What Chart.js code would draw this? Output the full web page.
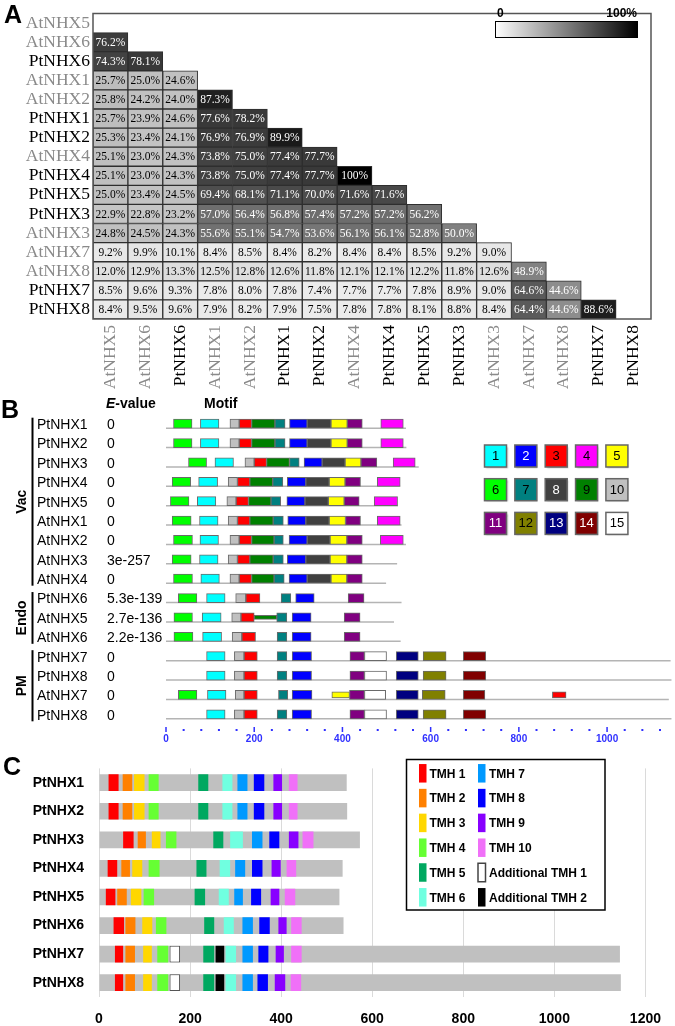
<!DOCTYPE html>
<html>
<head>
    <title>NHX identity, motifs and TMH</title>
    <script src="https://cdn.jsdelivr.net/npm/chart.js"></script>
    <style>
        body {
            margin: 0;
            background: #fff;
            width: 675px;
            height: 1026px;
            position: relative;
            overflow: hidden;
            font-family: "Liberation Sans", Arial, sans-serif;
        }
        canvas {
            position: absolute;
            left: 0;
        }
        #chartA { top: 0; }
        #chartB { top: 395px; }
        #chartC { top: 745px; }
        .tag {
            position: absolute;
            font: bold 25px/25px "Liberation Sans", Arial, sans-serif;
            z-index: 2;
        }
        .head {
            position: absolute;
            font: bold 14px/14px "Liberation Sans", Arial, sans-serif;
            z-index: 2;
        }
    </style>
</head>
<body>
    <canvas id="chartA" width="675" height="395"></canvas>
    <canvas id="chartB" width="675" height="350"></canvas>
    <canvas id="chartC" width="675" height="281"></canvas>

    <div class="tag" style="left:4px; top:2px;">A</div>
    <div class="tag" style="left:1px; top:397px;">B</div>
    <div class="tag" style="left:3px; top:754px;">C</div>
    <div class="head" style="left:106px; top:396px;"><i>E</i>-value</div>
    <div class="head" style="left:204px; top:396px;">Motif</div>

    <script>
        const SANS = '"Liberation Sans", Arial, sans-serif';
        const SERIF = '"Liberation Serif", "Times New Roman", serif';

        // ---------- A: pairwise identity (lower triangle, %)
        const namesA = ['AtNHX5', 'AtNHX6', 'PtNHX6', 'AtNHX1', 'AtNHX2', 'PtNHX1', 'PtNHX2', 'AtNHX4',
                        'PtNHX4', 'PtNHX5', 'PtNHX3', 'AtNHX3', 'AtNHX7', 'AtNHX8', 'PtNHX7', 'PtNHX8'];
        const identity = [
            [],
            [76.2],
            [74.3, 78.1],
            [25.7, 25.0, 24.6],
            [25.8, 24.2, 24.0, 87.3],
            [25.7, 23.9, 24.6, 77.6, 78.2],
            [25.3, 23.4, 24.1, 76.9, 76.9, 89.9],
            [25.1, 23.0, 24.3, 73.8, 75.0, 77.4, 77.7],
            [25.1, 23.0, 24.3, 73.8, 75.0, 77.4, 77.7, 100],
            [25.0, 23.4, 24.5, 69.4, 68.1, 71.1, 70.0, 71.6, 71.6],
            [22.9, 22.8, 23.2, 57.0, 56.4, 56.8, 57.4, 57.2, 57.2, 56.2],
            [24.8, 24.5, 24.3, 55.6, 55.1, 54.7, 53.6, 56.1, 56.1, 52.8, 50.0],
            [9.2, 9.9, 10.1, 8.4, 8.5, 8.4, 8.2, 8.4, 8.4, 8.5, 9.2, 9.0],
            [12.0, 12.9, 13.3, 12.5, 12.8, 12.6, 11.8, 12.1, 12.1, 12.2, 11.8, 12.6, 48.9],
            [8.5, 9.6, 9.3, 7.8, 8.0, 7.8, 7.4, 7.7, 7.7, 7.8, 8.9, 9.0, 64.6, 44.6],
            [8.4, 9.5, 9.6, 7.9, 8.2, 7.9, 7.5, 7.8, 7.8, 8.1, 8.8, 8.4, 64.4, 44.6, 88.6]
        ];

        // ---------- B: MEME motifs (start, end in aa)
        const rowsB = ['PtNHX1', 'PtNHX2', 'PtNHX3', 'PtNHX4', 'PtNHX5', 'AtNHX1', 'AtNHX2', 'AtNHX3',
                       'AtNHX4', 'PtNHX6', 'AtNHX5', 'AtNHX6', 'PtNHX7', 'PtNHX8', 'AtNHX7', 'PtNHX8'];
        const evalues = ['0', '0', '0', '0', '0', '0', '0', '3e-257', '0', '5.3e-139', '2.7e-136', '2.2e-136',
                         '0', '0', '0', '0'];
        const lengthsB = [544, 545, 573, 531, 526, 534, 544, 524, 499, 534, 517, 532, 1144, 1146, 1140, 1146];
        const groupNames = ['Vac', 'Endo', 'PM'];
        const groupFirst = [0, 9, 12];
        const groupLast = [8, 11, 15];

        const motif1 = [[78,120],[78,120],[111,153],[74,117],[71,113],[76,118],[77,119],[76,118],[79,121],[92,134],[82,125],[83,126],[92,134],[92,134],[94,136],[92,134]];
        const motif2 = [[280,320],[280,320],[313,354],[275,317],[274,315],[276,317],[279,320],[275,317],[279,320],[294,336],[286,329],[286,329],[286,330],[286,330],[286,331],[286,330]];
        const motif3 = [[166,194],[166,194],[200,228],[162,190],[159,187],[162,190],[166,194],[162,190],[166,194],[181,213],[170,200],[172,203],[177,207],[177,207],[177,207],[177,207]];
        const motif4 = [[487,538],[487,538],[515,565],[479,531],[472,525],[479,531],[486,538],null,null,null,null,null,null,null,null,null];
        const motif5 = [[374,411],[374,411],[406,442],[370,406],[368,404],[370,407],[372,410],[372,410],[374,410],null,null,null,null,null,null,null];
        const motif6 = [[17,59],[17,59],[51,92],[14,56],[10,52],[14,57],[17,60],[14,57],[17,60],[28,70],[18,60],[18,61],null,null,[28,70],null];
        const motif7 = [[247,270],[247,270],[280,302],[242,265],[238,260],[243,266],[245,266],[243,266],[245,268],[261,283],[251,274],[252,274],[252,274],[252,274],[255,276],[252,274]];
        const motif8 = [[320,374],[320,374],[354,406],[317,370],[315,368],[317,370],[320,372],[317,372],[320,374],null,null,null,null,null,null,null];
        const motif9 = [[194,247],[194,247],[228,280],[190,242],[187,238],[190,243],[194,245],[190,243],[194,245],null,null,null,null,null,null,null];
        const motif10 = [[145,166],[145,166],[179,200],[141,162],[138,159],[141,162],[145,166],[141,162],[145,166],[158,181],[149,170],[150,172],[155,177],[155,177],[157,177],[155,177]];
        const motif11 = [[411,445],[411,445],[442,478],[406,441],[404,438],[407,441],[410,445],[410,445],[410,445],[413,449],[404,440],[404,440],[417,450],[417,450],[416,450],[417,450]];
        const motif12 = [null,null,null,null,null,null,null,null,null,null,null,null,[583,635],[583,635],[581,633],[583,635]];
        const motif13 = [null,null,null,null,null,null,null,null,null,null,null,null,[522,572],[522,572],[522,572],[522,572]];
        const motif14 = [null,null,null,null,null,null,null,null,null,null,null,null,[674,725],[674,725],[674,723],[674,725]];
        const motif15 = [null,null,null,null,null,null,null,null,null,null,null,null,[450,500],[450,500],[450,498],[450,500]];
        // weaker hits drawn as lower boxes
        const weakMotif = [9, 5, 3];
        const weakRow = [10, 14, 14];
        const weakRange = [[200, 251], [376, 416], [876, 907]];
        const weakHeight = [4, 6, 6];

        const motifColors = ['#00ffff', '#0000ff', '#ff0000', '#ff00ff', '#ffff00', '#00ff00', '#008080', '#404040',
                             '#008000', '#c0c0c0', '#800080', '#808000', '#000080', '#800000', '#ffffff'];
        const motifInk = ['#000', '#fff', '#000', '#000', '#000', '#000', '#000', '#fff',
                          '#000', '#000', '#fff', '#000', '#fff', '#fff', '#000'];

        // ---------- C: TMH positions
        const namesC = ['PtNHX1', 'PtNHX2', 'PtNHX3', 'PtNHX4', 'PtNHX5', 'PtNHX6', 'PtNHX7', 'PtNHX8'];
        const lengthsC = [544, 545, 573, 535, 528, 537, 1144, 1146];
        const tmh1 = [[21,43],[21,43],[53,76],[19,40],[15,36],[32,55],[35,53],[35,53]];
        const tmh2 = [[52,73],[52,73],[85,103],[49,68],[40,61],[58,80],[58,79],[58,79]];
        const tmh3 = [[77,100],[77,100],[116,135],[73,95],[70,93],[95,117],[97,116],[97,116]];
        const tmh4 = [[109,131],[109,131],[147,170],[109,133],[98,121],[125,148],[128,152],[128,152]];
        const tmh5 = [[218,240],[218,240],[251,273],[214,236],[210,233],[231,253],[229,253],[229,253]];
        const tmh6 = [[271,293],[271,293],[288,316],[265,288],[263,285],[274,296],[278,301],[278,301]];
        const tmh7 = [[304,326],[304,326],[336,359],[299,321],[297,316],[315,338],[315,338],[315,338]];
        const tmh8 = [[340,363],[340,363],[374,396],[336,359],[334,356],[352,375],[350,372],[348,371]];
        const tmh9 = [[383,402],[383,402],[417,438],[379,399],[377,396],[394,412],[388,406],[386,409]];
        const tmh10 = [[417,436],[417,436],[447,471],[412,433],[408,431],[422,445],[422,445],[421,444]];
        const addTmh1 = [null, null, null, null, null, null, [155,178], [155,178]];
        const addTmh2 = [null, null, null, null, null, null, [256,275], [256,275]];
        const tmhNames = ['TMH 1', 'TMH 2', 'TMH 3', 'TMH 4', 'TMH 5', 'TMH 6', 'TMH 7', 'TMH 8', 'TMH 9', 'TMH 10',
                          'Additional TMH 1', 'Additional TMH 2'];
        const tmhColors = ['#ff0000', '#ff8000', '#ffd700', '#66ff33', '#00a860', '#70ffe0', '#0099ff', '#0000ff',
                           '#8800ff', '#f070f8', '#ffffff', '#000000'];

        const atColor = name => name.startsWith('At') ? '#8a8a8a' : '#000';

        // ================= Panel A
        const cellColor = v => {
            const g = Math.min(235, Math.round(255 * (1 - v / 100)));
            return 'rgb(' + g + ',' + g + ',' + g + ')';
        };

        const heatDatasets = namesA.map((col, j) => ({
            label: col,
            data: namesA.map((row, i) => identity[i][j] != null ? [j, j + 1] : null),
            backgroundColor: namesA.map((row, i) => identity[i][j] != null ? cellColor(identity[i][j]) : 'transparent'),
            borderColor: '#2e2e2e',
            borderWidth: 1,
            borderSkipped: false,
            grouped: false,
            barPercentage: 1,
            categoryPercentage: 1
        }));

        const cellText = {
            id: 'cellText',
            afterDatasetsDraw(chart) {
                const ctx = chart.ctx;
                ctx.save();
                ctx.font = '11.5px ' + SERIF;
                ctx.textAlign = 'center';
                ctx.textBaseline = 'middle';
                chart.data.datasets.forEach((ds, j) => {
                    chart.getDatasetMeta(j).data.forEach((bar, i) => {
                        const v = identity[i][j];
                        if (v == null) return;
                        ctx.fillStyle = v > 40 ? '#fff' : '#000';
                        const txt = v === 100 ? '100%' : v.toFixed(1) + '%';
                        ctx.fillText(txt, (bar.x + bar.base) / 2, bar.y + 0.5);
                    });
                });
                ctx.restore();
            }
        };

        const frameA = {
            id: 'frameA',
            afterDraw(chart) {
                const {ctx, chartArea: a} = chart;
                ctx.save();
                ctx.strokeStyle = '#555';
                ctx.lineWidth = 1.5;
                ctx.strokeRect(a.left, a.top, a.right - a.left, a.bottom - a.top);
                // grey scale key
                const g = ctx.createLinearGradient(495, 0, 637, 0);
                g.addColorStop(0, '#ffffff');
                g.addColorStop(1, '#000000');
                ctx.fillStyle = g;
                ctx.fillRect(495, 21, 142, 16);
                ctx.strokeStyle = '#000';
                ctx.lineWidth = 1;
                ctx.strokeRect(495.5, 21.5, 142, 16);
                ctx.fillStyle = '#000';
                ctx.font = 'bold 12px ' + SANS;
                ctx.textBaseline = 'alphabetic';
                ctx.textAlign = 'left';
                ctx.fillText('0', 497, 17);
                ctx.textAlign = 'right';
                ctx.fillText('100%', 637, 17);
                ctx.restore();
            }
        };

        new Chart(document.getElementById('chartA'), {
            type: 'bar',
            data: { labels: namesA, datasets: heatDatasets },
            options: {
                indexAxis: 'y',
                responsive: false,
                animation: false,
                layout: { padding: { top: 3, right: 24, left: 0, bottom: 0 } },
                plugins: { legend: { display: false }, tooltip: { enabled: false } },
                scales: {
                    x: {
                        type: 'linear', min: 0, max: 16,
                        grid: { display: false, drawTicks: false },
                        border: { display: false },
                        afterBuildTicks: s => { s.ticks = namesA.map((n, i) => ({ value: i + 0.5 })); },
                        afterFit: s => { s.height = 76; },
                        ticks: {
                            autoSkip: false, minRotation: 90, maxRotation: 90, padding: 6,
                            font: { family: SERIF, size: 17.5 },
                            color: c => atColor(namesA[c.index]),
                            callback: (v, i) => namesA[i]
                        }
                    },
                    y: {
                        grid: { display: false, drawTicks: false },
                        border: { display: false },
                        afterFit: s => { s.width = 93; },
                        ticks: {
                            autoSkip: false,
                            padding: 3,
                            font: { family: SERIF, size: 17.5 },
                            color: c => atColor(namesA[c.index])
                        }
                    }
                }
            },
            plugins: [cellText, frameA]
        });

        // ================= Panel B
        const motifRanges = [motif1, motif2, motif3, motif4, motif5, motif6, motif7, motif8, motif9, motif10,
                             motif11, motif12, motif13, motif14, motif15];
        const motifDatasets = motifRanges.map((ranges, k) => ({
            label: 'Motif ' + (k + 1),
            data: ranges,
            backgroundColor: motifColors[k],
            borderColor: '#6a6a6a',
            borderWidth: 1,
            borderSkipped: false,
            barThickness: 9,
            grouped: false
        }));
        const weakDatasets = weakMotif.map((m, k) => ({
            label: 'Motif ' + m + ' (weak)',
            data: rowsB.map((r, i) => i === weakRow[k] ? weakRange[k] : null),
            backgroundColor: motifColors[m - 1],
            borderColor: '#6a6a6a',
            borderWidth: 1,
            borderSkipped: false,
            barThickness: weakHeight[k],
            grouped: false
        }));

        const proteinLines = {
            id: 'proteinLines',
            beforeDatasetsDraw(chart) {
                const {ctx, scales: {x, y}} = chart;
                ctx.save();
                ctx.strokeStyle = '#b4b4b4';
                ctx.lineWidth = 1.5;
                lengthsB.forEach((len, i) => {
                    const py = y.getPixelForValue(i) + 4.5;
                    ctx.beginPath();
                    ctx.moveTo(x.getPixelForValue(0), py);
                    ctx.lineTo(x.getPixelForValue(len), py);
                    ctx.stroke();
                });
                ctx.restore();
            }
        };

        const decorB = {
            id: 'decorB',
            afterDraw(chart) {
                const {ctx, scales: {x, y}, chartArea: a} = chart;
                ctx.save();
                // axis ticks: dashes at labels, dots between
                ctx.fillStyle = '#3030ff';
                x.ticks.forEach(t => {
                    const px = x.getPixelForValue(t.value);
                    if (t.value % 200 === 0) ctx.fillRect(px - 0.75, a.bottom + 3, 1.5, 5);
                    else ctx.fillRect(px - 1, a.bottom + 5, 2, 2);
                });
                // location groups
                ctx.fillStyle = '#000';
                ctx.strokeStyle = '#000';
                ctx.lineWidth = 2;
                ctx.font = 'bold 14px ' + SANS;
                ctx.textAlign = 'center';
                ctx.textBaseline = 'middle';
                groupNames.forEach((g, k) => {
                    const y0 = y.getPixelForValue(groupFirst[k]) - 6;
                    const y1 = y.getPixelForValue(groupLast[k]) + 7;
                    ctx.beginPath();
                    ctx.moveTo(32.5, y0);
                    ctx.lineTo(32.5, y1);
                    ctx.stroke();
                    ctx.save();
                    ctx.translate(22, (y0 + y1) / 2);
                    ctx.rotate(-Math.PI / 2);
                    ctx.fillText(g, 0, 0);
                    ctx.restore();
                });
                // motif key
                ctx.font = '13px ' + SANS;
                motifColors.forEach((c, k) => {
                    const bx = 484.5 + 30.35 * (k % 5);
                    const by = 50 + 33.7 * Math.floor(k / 5);
                    ctx.save();
                    ctx.shadowColor = 'rgba(0,0,0,0.25)';
                    ctx.shadowOffsetX = 1.5;
                    ctx.shadowOffsetY = 1.5;
                    ctx.shadowBlur = 1.5;
                    ctx.fillStyle = c;
                    ctx.fillRect(bx, by, 22, 22);
                    ctx.restore();
                    ctx.strokeStyle = '#666';
                    ctx.lineWidth = 1.5;
                    ctx.strokeRect(bx, by, 22, 22);
                    ctx.fillStyle = motifInk[k];
                    ctx.fillText(String(k + 1), bx + 11, by + 11.5);
                });
                ctx.restore();
            }
        };

        new Chart(document.getElementById('chartB'), {
            type: 'bar',
            data: { labels: rowsB, datasets: [...motifDatasets, ...weakDatasets] },
            options: {
                indexAxis: 'y',
                responsive: false,
                animation: false,
                layout: { padding: { top: 19, right: 15, left: 37, bottom: 0 } },
                plugins: { legend: { display: false }, tooltip: { enabled: false } },
                scales: {
                    x: {
                        type: 'linear', min: 0, max: 1120,
                        grid: { display: false, drawTicks: false },
                        border: { display: false },
                        afterFit: s => { s.height = 21; },
                        ticks: {
                            stepSize: 40, autoSkip: false, maxRotation: 0, padding: 9,
                            color: '#3030ff',
                            font: { size: 10, weight: 'bold' },
                            callback: v => v % 200 === 0 ? String(v) : ''
                        }
                    },
                    y: {
                        position: 'left', weight: 2,
                        grid: { display: false, drawTicks: false },
                        border: { display: false },
                        afterFit: s => { s.width = 70; },
                        ticks: { autoSkip: false, crossAlign: 'far', padding: 0, labelOffset: 1.5, color: '#000',
                                 font: { family: SANS, size: 14 } }
                    },
                    yE: {
                        type: 'category', position: 'left', weight: 1,
                        labels: evalues, min: 0, max: 15, offset: true,
                        grid: { display: false, drawTicks: false },
                        border: { display: false },
                        afterFit: s => { s.width = 59; },
                        ticks: { autoSkip: false, crossAlign: 'far', padding: 0, labelOffset: 1.5, color: '#000',
                                 font: { family: SANS, size: 14 } }
                    }
                }
            },
            plugins: [proteinLines, decorB]
        });

        // ================= Panel C
        const tmhRanges = [tmh1, tmh2, tmh3, tmh4, tmh5, tmh6, tmh7, tmh8, tmh9, tmh10, addTmh1, addTmh2];
        const tmhDatasets = tmhRanges.map((ranges, k) => ({
            label: tmhNames[k],
            data: ranges,
            backgroundColor: tmhColors[k],
            borderColor: '#555',
            borderWidth: k === 10 ? 1 : 0,
            borderSkipped: false,
            barPercentage: 0.585,
            categoryPercentage: 1,
            grouped: false,
            order: 0
        }));
        const proteinDataset = {
            label: 'Protein',
            data: lengthsC.map(l => [0, l]),
            backgroundColor: '#c0c0c0',
            borderWidth: 0,
            barPercentage: 0.585,
            categoryPercentage: 1,
            grouped: false,
            order: 1
        };

        const keyC = {
            id: 'keyC',
            afterDatasetsDraw(chart) {
                const ctx = chart.ctx;
                ctx.save();
                ctx.fillStyle = '#fff';
                ctx.fillRect(406.5, 14.5, 198.5, 150.5);
                ctx.strokeStyle = '#000';
                ctx.lineWidth = 1.5;
                ctx.strokeRect(406.5, 14.5, 198.5, 150.5);
                ctx.font = 'bold 12px ' + SANS;
                ctx.textAlign = 'left';
                ctx.textBaseline = 'middle';
                tmhDatasets.forEach((ds, k) => {
                    const col = k < 6 ? 0 : 1;
                    const row = k % 6;
                    const sx = col ? 478 : 419;
                    const sy = 28.3 + 24.8 * row;
                    ctx.fillStyle = ds.backgroundColor;
                    ctx.fillRect(sx, sy - 9.25, 7.5, 18.5);
                    if (ds.borderWidth) {
                        ctx.strokeStyle = '#444';
                        ctx.lineWidth = 1.5;
                        ctx.strokeRect(sx, sy - 9.25, 7.5, 18.5);
                    }
                    ctx.fillStyle = '#000';
                    ctx.fillText(ds.label, sx + (col ? 11 : 10.5), sy + 1);
                });
                ctx.restore();
            }
        };

        new Chart(document.getElementById('chartC'), {
            type: 'bar',
            data: { labels: namesC, datasets: [...tmhDatasets, proteinDataset] },
            options: {
                indexAxis: 'y',
                responsive: false,
                animation: false,
                layout: { padding: { top: 5, right: 17, left: 0, bottom: 0 } },
                plugins: { legend: { display: false }, tooltip: { enabled: false } },
                scales: {
                    x: {
                        type: 'linear', min: 0, max: 1200,
                        grid: { color: '#dadada', drawTicks: false, lineWidth: 1 },
                        border: { display: false },
                        afterFit: s => { s.height = 29; },
                        ticks: { stepSize: 200, padding: 14, color: '#000',
                                 font: { size: 14, weight: 'bold' },
                                 callback: v => String(v) }
                    },
                    y: {
                        grid: { display: false, drawTicks: false },
                        border: { display: false },
                        afterFit: s => { s.width = 99; },
                        ticks: { autoSkip: false, padding: 15, color: '#000',
                                 font: { family: SANS, size: 14, weight: 'bold' } }
                    }
                }
            },
            plugins: [keyC]
        });
    </script>
</body>
</html>
